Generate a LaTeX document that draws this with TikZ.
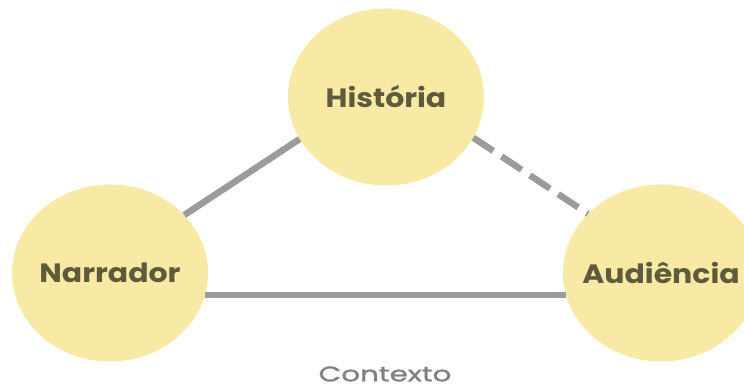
\documentclass[tikz,border=0pt]{standalone}
\usepackage{fontspec}
\setmainfont{Poppins}
\newfontfamily\bubblefont{Poppins}[FakeStretch=1.13]
\newfontfamily\ctxfont{Poppins}[FakeStretch=1.4,FakeBold=1.2]
\usetikzlibrary{shapes.geometric}
\definecolor{bubble}{HTML}{F8E9A5}
\definecolor{bubbletext}{HTML}{5E5A3B}
\definecolor{link}{HTML}{9B9B9B}
\definecolor{ctx}{HTML}{808080}
\newcommand{\bubblelabel}[1]{\makebox[0pt][c]{#1}}
\begin{document}
\begin{tikzpicture}[x=1pt,y=-1pt,
  bubble/.style={ellipse,fill=bubble,draw=none,minimum width=196pt,minimum height=177pt,inner sep=0pt,
    text=bubbletext,font=\bubblefont\fontsize{26.5}{30}\selectfont\bfseries},
  link/.style={draw=link,line width=6.5pt}]
\useasboundingbox (0,0) rectangle (744,390);
\node[bubble] (hist) at (386,97) {\bubblelabel{História}};
\node[bubble] (narr) at (110,273) {\bubblelabel{Narrador}};
\node[bubble] (aud) at (661,273) {\bubblelabel{Audiência}};
\draw[link] (narr.38) -- (hist.206);
\draw[link,dash pattern=on 24pt off 10pt] (hist.335) -- (aud.141);
\draw[link] (narr.-13) -- (aud.193);
\node[text=ctx,font=\ctxfont\fontsize{21}{24}\selectfont] (ctx) at (385,374) {Contexto};
\end{tikzpicture}
\end{document}
